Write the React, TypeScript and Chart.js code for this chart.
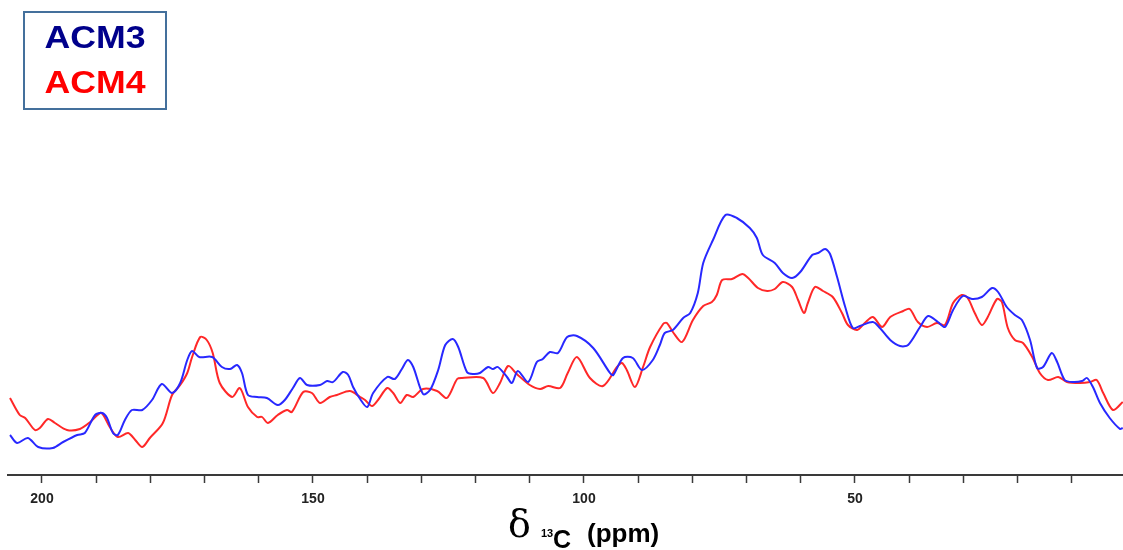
import React, { useEffect, useRef } from "react";
import { Chart, registerables } from "chart.js";

Chart.register(...registerables);

// Chemical shift (ppm) and intensity (arbitrary units)
const acm3Ppm = [205.9, 204.6, 202.6, 200.7, 198.0, 196.1, 193.5, 192.1, 190.2, 188.9, 188.0, 186.9, 186.0, 184.7, 183.4, 181.5, 179.7, 177.9, 176.0, 174.5, 173.2, 172.3, 171.0, 168.6, 166.8, 165.3, 164.0, 163.1, 162.0, 160.3, 158.5, 156.5, 155.2, 153.7, 152.4, 151.1, 148.7, 147.4, 146.3, 144.5, 143.5, 142.6, 141.3, 140.0, 138.9, 136.3, 134.9, 133.6, 132.5, 131.5, 129.7, 128.4, 126.9, 125.6, 124.2, 123.2, 121.6, 120.5, 119.2, 117.7, 116.8, 115.9, 114.2, 113.3, 112.2, 110.3, 108.7, 107.6, 106.3, 104.8, 103.1, 101.3, 98.3, 95.2, 94.6, 92.8, 91.0, 89.3, 87.3, 86.0, 85.1, 83.6, 81.7, 80.4, 79.0, 78.0, 76.2, 73.9, 71.8, 69.4, 68.1, 67.0, 64.8, 63.3, 61.6, 60.1, 57.9, 56.8, 55.5, 54.6, 53.3, 51.8, 50.4, 49.1, 46.7, 45.4, 43.5, 41.7, 40.2, 38.0, 36.5, 34.7, 33.4, 31.9, 30.1, 28.4, 26.6, 24.7, 23.6, 22.0, 20.5, 19.2, 17.7, 16.4, 15.3, 13.7, 12.7, 11.3, 9.8, 8.1, 7.2, 6.1, 4.8, 3.0, 1.1, 0.6];
const acm3Int = [40, 32, 37, 28, 27, 33, 40, 42, 60, 62, 57, 42, 40, 55, 65, 65, 75, 91, 82, 92, 115, 124, 118, 118, 108, 106, 110, 102, 80, 78, 77, 70, 75, 87, 97, 90, 90, 94, 93, 103, 100, 88, 76, 68, 82, 98, 96, 106, 115, 108, 81, 85, 105, 130, 136, 128, 103, 101, 102, 108, 106, 108, 98, 92, 104, 93, 113, 116, 123, 122, 138, 139, 127, 102, 100, 117, 117, 105, 115, 130, 142, 145, 157, 162, 182, 212, 235, 260, 257, 247, 237, 220, 212, 202, 197, 203, 220, 222, 226, 221, 198, 168, 147, 149, 153, 147, 135, 129, 130, 148, 159, 153, 148, 165, 179, 176, 178, 187, 183, 168, 160, 155, 135, 107, 108, 122, 113, 95, 93, 94, 97, 88, 72, 57, 46, 47];

const acm4Ppm = [205.9, 204.1, 203.1, 201.3, 200.4, 198.9, 197.6, 195.4, 193.0, 191.1, 189.3, 188.7, 187.5, 186.0, 184.1, 182.8, 181.5, 180.1, 177.7, 176.0, 174.5, 173.2, 172.3, 170.8, 169.6, 168.5, 167.2, 164.9, 163.5, 162.0, 160.3, 159.4, 158.3, 156.5, 154.8, 153.9, 151.8, 150.2, 148.7, 146.9, 145.6, 143.2, 141.3, 140.4, 139.1, 138.0, 136.3, 135.2, 133.9, 132.7, 131.5, 129.7, 127.1, 125.3, 123.4, 122.5, 118.6, 116.8, 115.5, 114.0, 112.4, 110.0, 108.1, 106.6, 104.4, 103.0, 101.3, 98.9, 96.5, 93.9, 93.0, 92.1, 90.6, 89.1, 87.8, 85.4, 84.7, 83.6, 81.9, 79.9, 78.0, 76.4, 75.5, 74.5, 72.7, 70.8, 69.7, 67.9, 66.2, 64.8, 63.3, 61.6, 60.5, 59.4, 58.7, 57.4, 55.9, 54.1, 52.4, 51.3, 49.6, 48.2, 46.7, 45.0, 43.5, 41.1, 39.9, 38.4, 36.7, 34.9, 33.4, 31.9, 30.3, 29.2, 27.9, 26.6, 25.5, 23.8, 22.9, 21.8, 20.5, 19.0, 17.3, 15.9, 14.4, 12.5, 10.9, 8.5, 6.6, 5.4, 4.2, 2.4, 0.6];
const acm4Int = [77, 60, 57, 45, 47, 56, 52, 45, 46, 53, 62, 60, 48, 38, 42, 35, 28, 37, 52, 80, 90, 102, 118, 138, 135, 122, 92, 78, 87, 68, 58, 58, 52, 60, 65, 63, 83, 82, 72, 78, 80, 84, 78, 75, 69, 75, 87, 82, 72, 80, 78, 86, 84, 77, 96, 97, 97, 82, 92, 109, 101, 90, 86, 89, 87, 102, 118, 97, 89, 108, 112, 105, 88, 108, 128, 151, 152, 143, 133, 155, 169, 173, 180, 195, 196, 201, 197, 187, 184, 186, 193, 188, 175, 162, 172, 188, 184, 178, 162, 150, 145, 152, 158, 148, 158, 164, 166, 153, 148, 152, 150, 172, 180, 177, 162, 150, 158, 176, 173, 147, 135, 132, 118, 102, 95, 98, 93, 92, 93, 95, 82, 65, 73];

const seriesNames = ["ACM3", "ACM4"];
const majorTicks = [200, 150, 100, 50];

export default function App() {
  const canvasRef = useRef<HTMLCanvasElement | null>(null);

  useEffect(() => {
    const canvas = canvasRef.current;
    if (!canvas) return;
    const chart = new Chart(canvas, {
      type: "line",
      data: {
        datasets: [
          {
            label: seriesNames[0],
            data: acm3Ppm.map((p, i) => ({ x: p, y: acm3Int[i] })),
            borderColor: "rgb(40,40,255)",
            borderWidth: 2,
            pointRadius: 0,
            tension: 0.3,
            fill: false,
          },
          {
            label: seriesNames[1],
            data: acm4Ppm.map((p, i) => ({ x: p, y: acm4Int[i] })),
            borderColor: "rgb(255,40,40)",
            borderWidth: 2,
            pointRadius: 0,
            tension: 0.3,
            fill: false,
          },
        ],
      },
      options: {
        responsive: false,
        animation: false,
        layout: { padding: { left: 8, right: 0, top: 0, bottom: 0 } },
        plugins: {
          legend: { display: false },
          tooltip: { enabled: false },
        },
        scales: {
          x: {
            type: "linear",
            reverse: true,
            min: 0.55,
            max: 206.27,
            afterFit: (scale: any) => {
              scale.height = 75;
            },
            border: { display: true, color: "#3a3a3a", width: 2 },
            grid: {
              drawOnChartArea: false,
              drawTicks: true,
              tickLength: 8,
              tickColor: "#3a3a3a",
              tickWidth: 1.5,
            },
            ticks: {
              stepSize: 10,
              includeBounds: false,
              autoSkip: false,
              maxRotation: 0,
              padding: 8,
              color: "#222",
              font: { family: "'Liberation Sans', Arial, sans-serif", size: 14, weight: "bold" },
              callback: (v: any) => (majorTicks.includes(Number(v)) ? String(v) : ""),
            },
          },
          y: {
            display: false,
            min: 0,
            max: 475,
          },
        },
      },
    });
    return () => chart.destroy();
  }, []);

  const sans = "'Liberation Sans', Arial, sans-serif";

  return (
    <div style={{ position: "absolute", left: 0, top: 0, width: 1123, height: 550, background: "#fff", overflow: "hidden" }}>
      <canvas ref={canvasRef} width={1123} height={550} style={{ position: "absolute", left: 0, top: 0, width: 1123, height: 550 }} />
      <div
        style={{
          position: "absolute",
          left: 23,
          top: 11,
          width: 144,
          height: 99,
          boxSizing: "border-box",
          border: "2.5px solid #44709c",
        }}
      />
      <div
        style={{
          position: "absolute",
          left: 23,
          top: 22,
          width: 144,
          textAlign: "center",
          fontFamily: sans,
          fontWeight: "bold",
          fontSize: 31,
          lineHeight: "31px",
          color: "#00008b",
          transform: "scaleX(1.15)",
        }}
      >
        {seriesNames[0]}
      </div>
      <div
        style={{
          position: "absolute",
          left: 23,
          top: 67,
          width: 144,
          textAlign: "center",
          fontFamily: sans,
          fontWeight: "bold",
          fontSize: 31,
          lineHeight: "31px",
          color: "#ff0000",
          transform: "scaleX(1.15)",
        }}
      >
        {seriesNames[1]}
      </div>
      <div style={{ position: "absolute", left: 508, top: 505, fontFamily: "'DejaVu Serif', 'Liberation Serif', serif", fontSize: 38, lineHeight: "38px", color: "#000" }}>
        δ
      </div>
      <div style={{ position: "absolute", left: 541, top: 528, fontFamily: sans, fontWeight: "bold", fontSize: 11, lineHeight: "11px", color: "#000" }}>
        13
      </div>
      <div style={{ position: "absolute", left: 553, top: 527, fontFamily: sans, fontWeight: "bold", fontSize: 25, lineHeight: "25px", color: "#000" }}>
        C
      </div>
      <div style={{ position: "absolute", left: 587, top: 520, fontFamily: sans, fontWeight: "bold", fontSize: 26, lineHeight: "26px", color: "#000" }}>
        (ppm)
      </div>
    </div>
  );
}
